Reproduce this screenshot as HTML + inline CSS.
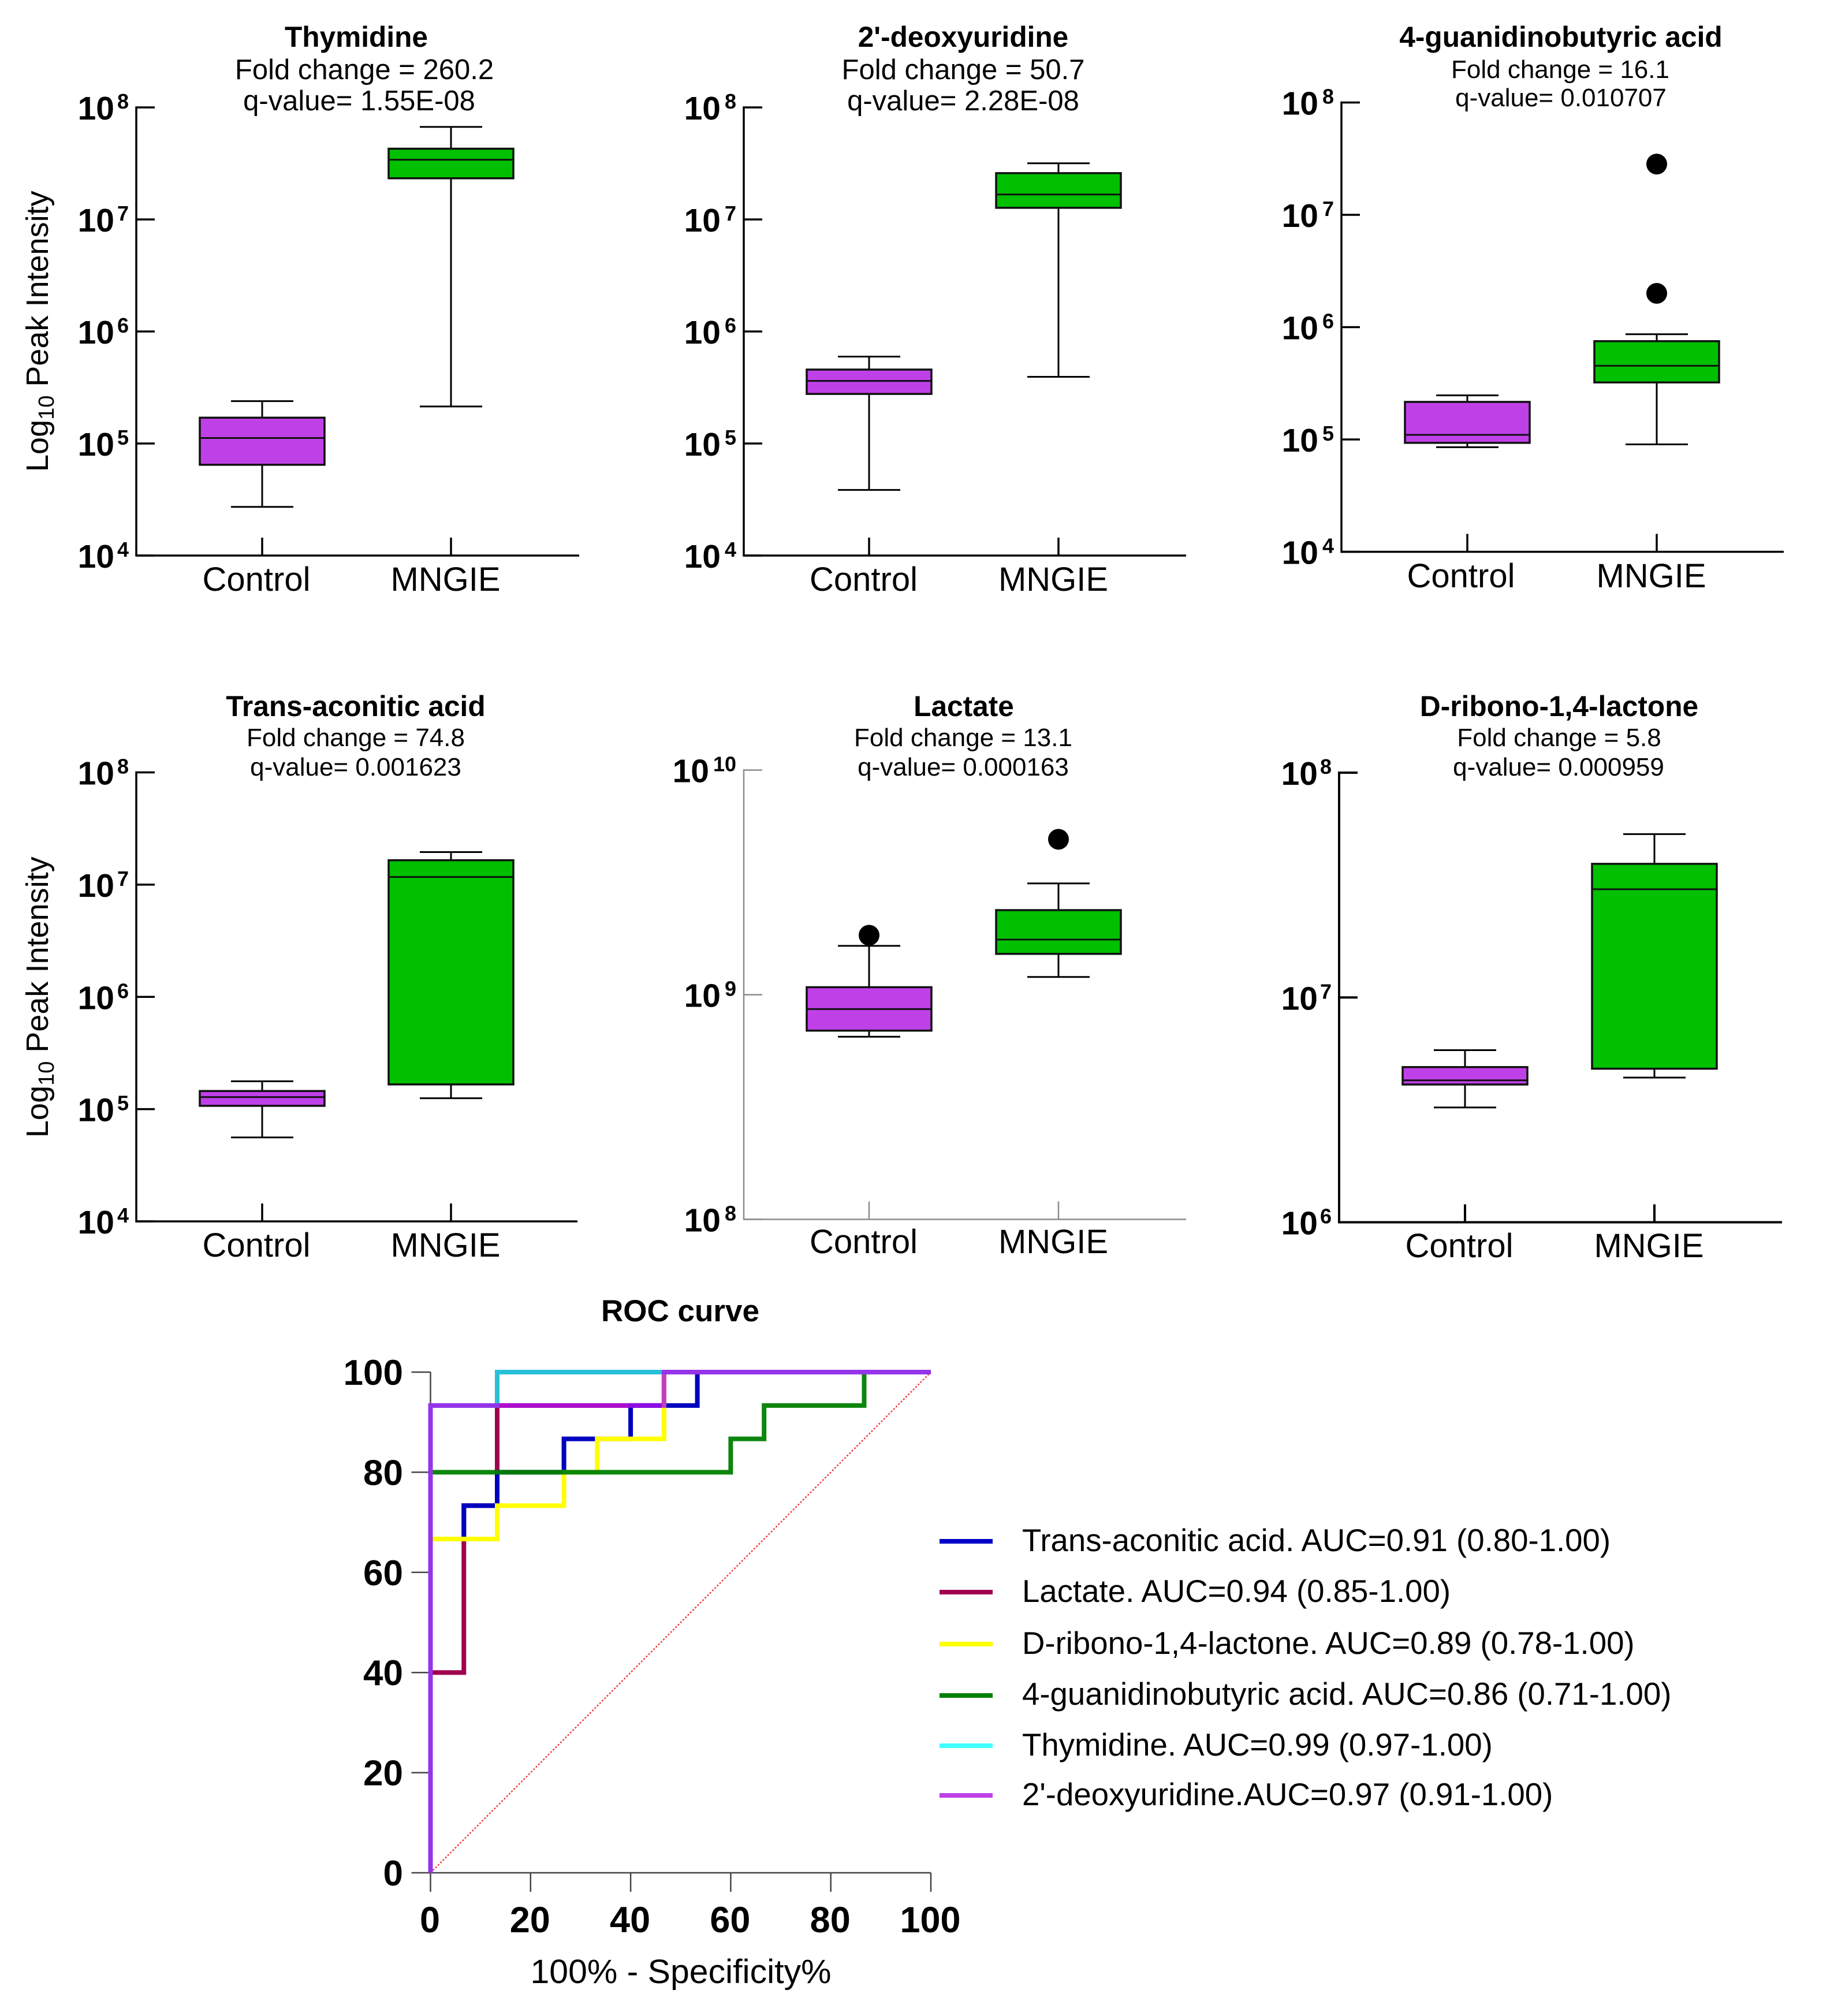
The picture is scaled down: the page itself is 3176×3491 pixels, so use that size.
<!DOCTYPE html>
<html lang="en">
<head>
<meta charset="utf-8">
<title>MNGIE metabolite box plots and ROC curve</title>
<style>
html,body{margin:0;padding:0;background:#fff;}
svg{display:block;font-family:"Liberation Sans",Arial,sans-serif;}
text{fill:#000;}
.ttl{font-weight:bold;font-size:49.6px;text-anchor:middle;}
.sub{font-size:49px;text-anchor:middle;}
.sub2{font-size:44px;text-anchor:middle;}
.leg{font-size:54.6px;}
</style>
</head>
<body>
<svg id="figure" xmlns="http://www.w3.org/2000/svg" width="3176" height="3491" viewBox="0 0 3176 3491">
<rect x="0" y="0" width="3176" height="3491" fill="#fff"/>

<g>
<text class="ttl" x="617" y="81">Thymidine</text>
<text class="sub" x="631" y="137">Fold change = 260.2</text>
<text class="sub" x="622" y="191">q-value= 1.55E-08</text>
</g>
<g>
<text class="ttl" x="1668" y="81">2'-deoxyuridine</text>
<text class="sub" x="1668" y="137">Fold change = 50.7</text>
<text class="sub" x="1668" y="191">q-value= 2.28E-08</text>
</g>
<g>
<text class="ttl" x="2703" y="81">4-guanidinobutyric acid</text>
<text class="sub2" x="2702" y="135">Fold change = 16.1</text>
<text class="sub2" x="2703" y="184">q-value= 0.010707</text>
</g>
<g>
<text class="ttl" x="616" y="1240">Trans-aconitic acid</text>
<text class="sub2" x="616" y="1292">Fold change = 74.8</text>
<text class="sub2" x="616" y="1343">q-value= 0.001623</text>
</g>
<g>
<text class="ttl" x="1669" y="1240">Lactate</text>
<text class="sub2" x="1668" y="1292">Fold change = 13.1</text>
<text class="sub2" x="1668" y="1343">q-value= 0.000163</text>
</g>
<g>
<text class="ttl" x="2700" y="1240">D-ribono-1,4-lactone</text>
<text class="sub2" x="2700" y="1292">Fold change = 5.8</text>
<text class="sub2" x="2699" y="1343">q-value= 0.000959</text>
</g>

<text transform="translate(83,817) rotate(-90)" font-size="54">Log<tspan font-size="38" dy="10">10</tspan><tspan dy="-10"> Peak Intensity</tspan></text>
<text transform="translate(83,1970) rotate(-90)" font-size="54">Log<tspan font-size="38" dy="10">10</tspan><tspan dy="-10"> Peak Intensity</tspan></text>

<g id="panels"></g>

<text x="1178" y="2288" font-size="53" font-weight="bold" text-anchor="middle">ROC curve</text>
<g id="roc"></g>
<text x="1179" y="3434" font-size="58" text-anchor="middle" textLength="521" lengthAdjust="spacingAndGlyphs">100% - Specificity%</text>

<g>
<g>
<rect x="1627" y="2665" width="92" height="8" fill="#0000c8"/>
<text class="leg" x="1770" y="2686">Trans-aconitic acid. AUC=0.91 (0.80-1.00)</text>
</g>
<g>
<rect x="1627" y="2753" width="92" height="8" fill="#a00050"/>
<text class="leg" x="1770" y="2774">Lactate. AUC=0.94 (0.85-1.00)</text>
</g>
<g>
<rect x="1627" y="2843" width="92" height="8" fill="#ffff00"/>
<text class="leg" x="1770" y="2864">D-ribono-1,4-lactone. AUC=0.89 (0.78-1.00)</text>
</g>
<g>
<rect x="1627" y="2932" width="92" height="8" fill="#008000"/>
<text class="leg" x="1770" y="2952">4-guanidinobutyric acid. AUC=0.86 (0.71-1.00)</text>
</g>
<g>
<rect x="1627" y="3019" width="92" height="8" fill="#40ffff"/>
<text class="leg" x="1770" y="3040">Thymidine. AUC=0.99 (0.97-1.00)</text>
</g>
<g>
<rect x="1627" y="3105" width="92" height="8" fill="#c040e8"/>
<text class="leg" x="1770" y="3126">2'-deoxyuridine.AUC=0.97 (0.91-1.00)</text>
</g>
</g>
</svg>

<script>
// Box plot data: each box array is [low whisker, Q1, median, Q3, high whisker]
const categories = ['Control', 'MNGIE'];
const thymidineControl = [2.72e4, 6.46e4, 1.12e5, 1.70e5, 2.39e5];
const thymidineMngie = [2.14e5, 2.33e7, 3.41e7, 4.28e7, 6.70e7];
const deoxyuridineControl = [3.85e4, 2.77e5, 3.62e5, 4.57e5, 5.97e5];
const deoxyuridineMngie = [3.94e5, 1.27e7, 1.67e7, 2.59e7, 3.17e7];
const guanidinoControl = [8.53e4, 9.33e4, 1.10e5, 2.16e5, 2.47e5];
const guanidinoMngie = [9.04e4, 3.22e5, 4.53e5, 7.50e5, 8.65e5];
const guanidinoMngieOutliers = [2.00e6, 2.83e7];
const aconiticControl = [5.60e4, 1.07e5, 1.28e5, 1.45e5, 1.77e5];
const aconiticMngie = [1.25e5, 1.66e5, 1.17e7, 1.65e7, 1.95e7];
const lactateControl = [6.50e8, 6.92e8, 8.63e8, 1.08e9, 1.65e9];
const lactateControlOutliers = [1.84e9];
const lactateMngie = [1.20e9, 1.52e9, 1.76e9, 2.38e9, 3.13e9];
const lactateMngieOutliers = [4.92e9];
const ribonoControl = [3.24e6, 4.10e6, 4.28e6, 4.90e6, 5.83e6];
const ribonoMngie = [4.40e6, 4.82e6, 3.03e7, 3.93e7, 5.33e7];
const exponents4to8 = [4, 5, 6, 7, 8];
const exponents8to10 = [8, 9, 10];
const exponents6to8 = [6, 7, 8];

// ROC data, percent
const rocTicks = [0, 20, 40, 60, 80, 100];
const lactateRocX = [0, 0, 6.67, 6.67, 13.33, 13.33, 46.67, 46.67, 100];
const lactateRocY = [0, 40, 40, 73.33, 73.33, 93.33, 93.33, 100, 100];
const aconiticRocX = [0, 0, 6.67, 6.67, 13.33, 13.33, 26.67, 26.67, 40, 40, 53.33, 53.33, 100];
const aconiticRocY = [0, 66.67, 66.67, 73.33, 73.33, 80, 80, 86.67, 86.67, 93.33, 93.33, 100, 100];
const ribonoRocX = [0, 0, 13.33, 13.33, 26.67, 26.67, 33.33, 33.33, 46.67, 46.67, 100];
const ribonoRocY = [0, 66.67, 66.67, 73.33, 73.33, 80, 80, 86.67, 86.67, 100, 100];
const guanidinoRocX = [0, 0, 60, 60, 66.67, 66.67, 86.67, 86.67, 100];
const guanidinoRocY = [0, 80, 80, 86.67, 86.67, 93.33, 93.33, 100, 100];
const thymidineRocX = [0, 0, 13.33, 13.33, 100];
const thymidineRocY = [0, 93.33, 93.33, 100, 100];
const deoxyuridineRocX = [0, 0, 46.67, 46.67, 100];
const deoxyuridineRocY = [0, 93.33, 93.33, 100, 100];
const referenceX = [0, 100];
const referenceY = [0, 100];

const SVGNS = 'http://www.w3.org/2000/svg';
function mk(parent, tag, attrs, txt) {
  const el = document.createElementNS(SVGNS, tag);
  for (const k in attrs) el.setAttribute(k, attrs[k]);
  if (txt !== undefined) el.textContent = txt;
  parent.appendChild(el);
  return el;
}

const panelsRoot = document.getElementById('panels');
const panelConfigs = [
  {slug:'thymidine', x0:236, xr:1003, top:186, bot:962, cx:[454,781], lx:[444,771.5], ly:1023, lg:38, ctl:thymidineControl, mng:thymidineMngie, exps:exponents4to8, tw:3.5, color:'#000'},
  {slug:'deoxyuridine', x0:1288, xr:2054, top:186, bot:962, cx:[1505,1833], lx:[1495.5,1824], ly:1023, lg:40, ctl:deoxyuridineControl, mng:deoxyuridineMngie, exps:exponents4to8, tw:3.5, color:'#000'},
  {slug:'guanidinobutyric', x0:2323, xr:3089, top:177.5, bot:955.5, cx:[2541,2869], lx:[2530,2859.5], ly:1017, lg:40, ctl:guanidinoControl, mng:guanidinoMngie, mngOut:guanidinoMngieOutliers, exps:exponents4to8, tw:3.5, color:'#000'},
  {slug:'aconitic', x0:236, xr:1000, top:1337.5, bot:2115, cx:[454,781], lx:[444,771.5], ly:2176, lg:38, ctl:aconiticControl, mng:aconiticMngie, exps:exponents4to8, tw:3.5, color:'#000'},
  {slug:'lactate', x0:1288, xr:2054, top:1333.5, bot:2111.5, cx:[1505,1833], lx:[1495.5,1824], ly:2170, lg:40, ctl:lactateControl, ctlOut:lactateControlOutliers, mng:lactateMngie, mngOut:lactateMngieOutliers, exps:exponents8to10, tw:2.5, color:'#8c8c8c'},
  {slug:'ribonolactone', x0:2319, xr:3086, top:1338, bot:2116.5, cx:[2537,2865], lx:[2527,2855.5], ly:2177, lg:37, ctl:ribonoControl, mng:ribonoMngie, exps:exponents6to8, tw:4, color:'#000'}
];

function drawBox(g, cfg, yOf, cx, vals, fill, outliers, slug) {
  const boxW = 216, capW = 108;
  const low = vals[0], q1 = vals[1], med = vals[2], q3 = vals[3], high = vals[4];
  const whisker = mk(g, 'line', {x1:cx, x2:cx, y1:yOf(high), y2:yOf(low), stroke:'#000', 'stroke-width':3});
  
  
  const capHigh = mk(g, 'line', {x1:cx-capW/2, x2:cx+capW/2, y1:yOf(high), y2:yOf(high), stroke:'#000', 'stroke-width':3});
  
  
  const capLow = mk(g, 'line', {x1:cx-capW/2, x2:cx+capW/2, y1:yOf(low), y2:yOf(low), stroke:'#000', 'stroke-width':3});
  
  
  const box = mk(g, 'rect', {x:cx-boxW/2, y:yOf(q3), width:boxW, height:yOf(q1)-yOf(q3), fill:fill, stroke:'#101010', 'stroke-width':3.5});
  
  
  const median = mk(g, 'line', {x1:cx-boxW/2, x2:cx+boxW/2, y1:yOf(med), y2:yOf(med), stroke:'#101010', 'stroke-width':3});
  
  
  (outliers || []).forEach(function (v) {
    const dot = mk(g, 'circle', {cx:cx, cy:yOf(v), r:18, fill:'#000'});
    
    
  });
}

panelConfigs.forEach(function (cfg) {
  const g = mk(panelsRoot, 'g', {});
  
  
  const eMin = cfg.exps[0], eMax = cfg.exps[cfg.exps.length - 1];
  const yOf = function (v) { return cfg.bot - (Math.log10(v) - eMin) / (eMax - eMin) * (cfg.bot - cfg.top); };

  const yAxis = mk(g, 'line', {x1:cfg.x0, x2:cfg.x0, y1:cfg.top - cfg.tw/2, y2:cfg.bot + cfg.tw/2, stroke:cfg.color, 'stroke-width':cfg.tw});
  
  
  const xAxis = mk(g, 'line', {x1:cfg.x0, x2:cfg.xr, y1:cfg.bot, y2:cfg.bot, stroke:cfg.color, 'stroke-width':cfg.tw});
  
  

  cfg.exps.forEach(function (e) {
    const y = yOf(Math.pow(10, e));
    const tick = mk(g, 'line', {x1:cfg.x0, x2:cfg.x0 + 32, y1:y, y2:y, stroke:cfg.color, 'stroke-width':cfg.tw});
    
    
    const extra = String(e).length - 1;
    const base = mk(g, 'text', {x:cfg.x0 - cfg.lg - extra * 20, y:y + 21, 'font-size':57, 'font-weight':'bold', 'text-anchor':'end'}, '10');
    
    
    const sup = mk(g, 'text', {x:cfg.x0 - 13, y:y + 2, 'font-size':36, 'font-weight':'bold', 'text-anchor':'end'}, String(e));
    
    
  });

  categories.forEach(function (c, i) {
    const tick = mk(g, 'line', {x1:cfg.cx[i], x2:cfg.cx[i], y1:cfg.bot, y2:cfg.bot - 31, stroke:cfg.color, 'stroke-width':cfg.tw});
    
    
    const label = mk(g, 'text', {x:cfg.lx[i], y:cfg.ly, 'font-size':58, 'text-anchor':'middle'}, c);
    
    
  });

  drawBox(g, cfg, yOf, cfg.cx[0], cfg.ctl, '#c040e8', cfg.ctlOut, cfg.slug + '-control');
  drawBox(g, cfg, yOf, cfg.cx[1], cfg.mng, '#00c000', cfg.mngOut, cfg.slug + '-mngie');
});

// ROC chart
const rocRoot = document.getElementById('roc');
const rocX = function (v) { return 745.5 + v / 100 * (1612 - 745.5); };
const rocY = function (v) { return 3243 - v / 100 * (3243 - 2376); };

const rocYAxis = mk(rocRoot, 'line', {x1:rocX(0), x2:rocX(0), y1:rocY(100), y2:rocY(0), stroke:'#444', 'stroke-width':2.5});


const rocXAxis = mk(rocRoot, 'line', {x1:rocX(0), x2:rocX(100), y1:rocY(0), y2:rocY(0), stroke:'#444', 'stroke-width':2.5});



rocTicks.forEach(function (t) {
  const yt = mk(rocRoot, 'line', {x1:rocX(0) - 33, x2:rocX(0), y1:rocY(t), y2:rocY(t), stroke:'#444', 'stroke-width':2.5});
  
  
  const yl = mk(rocRoot, 'text', {x:rocX(0) - 47.5, y:rocY(t) + 22, 'font-size':62, 'font-weight':'bold', 'text-anchor':'end'}, String(t));
  
  
  const xt = mk(rocRoot, 'line', {x1:rocX(t), x2:rocX(t), y1:rocY(0), y2:rocY(0) + 33, stroke:'#444', 'stroke-width':2.5});
  
  
  const xl = mk(rocRoot, 'text', {x:rocX(t) - 1, y:3346, 'font-size':63, 'font-weight':'bold', 'text-anchor':'middle'}, String(t));
  
  
});

function pointsOf(xs, ys) {
  return xs.map(function (x, i) { return rocX(x) + ',' + rocY(ys[i]); }).join(' ');
}
const refLine = mk(rocRoot, 'polyline', {points:pointsOf(referenceX, referenceY), fill:'none', stroke:'#f23c3c', 'stroke-width':2.5, 'stroke-dasharray':'3 3'});



const lactateLine = mk(rocRoot, 'polyline', {points:pointsOf(lactateRocX, lactateRocY), fill:'none', stroke:'#a00050', 'stroke-width':8});


const aconiticLine = mk(rocRoot, 'polyline', {points:pointsOf(aconiticRocX, aconiticRocY), fill:'none', stroke:'#0000c0', 'stroke-width':8});


const ribonoLine = mk(rocRoot, 'polyline', {points:pointsOf(ribonoRocX, ribonoRocY), fill:'none', stroke:'#ffff00', 'stroke-width':8});


const guanidinoLine = mk(rocRoot, 'polyline', {points:pointsOf(guanidinoRocX, guanidinoRocY), fill:'none', stroke:'#008000', 'stroke-width':8, 'stroke-opacity':0.95});


const thymidineLine = mk(rocRoot, 'polyline', {points:pointsOf(thymidineRocX, thymidineRocY), fill:'none', stroke:'#28c0d8', 'stroke-width':8});


const deoxyLine = mk(rocRoot, 'polyline', {points:pointsOf(deoxyuridineRocX, deoxyuridineRocY), fill:'none', stroke:'#b010ec', 'stroke-width':8, 'stroke-opacity':0.8});


</script>
</body>
</html>
